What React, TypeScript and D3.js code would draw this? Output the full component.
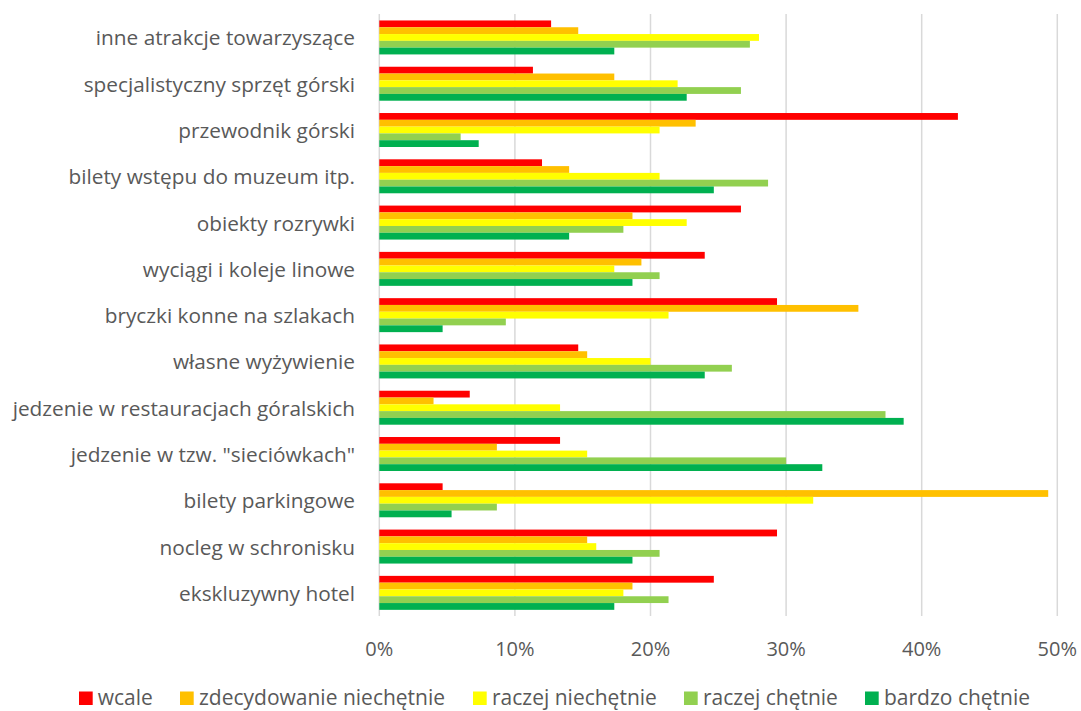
import React from "react";
import * as d3 from "d3";

const categories = [
  "inne atrakcje towarzyszące",
  "specjalistyczny sprzęt górski",
  "przewodnik górski",
  "bilety wstępu do muzeum itp.",
  "obiekty rozrywki",
  "wyciągi i koleje linowe",
  "bryczki konne na szlakach",
  "własne wyżywienie",
  "jedzenie w restauracjach góralskich",
  "jedzenie w tzw. \"sieciówkach\"",
  "bilety parkingowe",
  "nocleg w schronisku",
  "ekskluzywny hotel",
];

const seriesNames = [
  "wcale",
  "zdecydowanie niechętnie",
  "raczej niechętnie",
  "raczej chętnie",
  "bardzo chętnie",
];

const wcale = [12.67, 11.33, 42.67, 12.0, 26.67, 24.0, 29.33, 14.67, 6.67, 13.33, 4.67, 29.33, 24.67];
const zdecydowanieNiechetnie = [14.67, 17.33, 23.33, 14.0, 18.67, 19.33, 35.33, 15.33, 4.0, 8.67, 49.33, 15.33, 18.67];
const raczejNiechetnie = [28.0, 22.0, 20.67, 20.67, 22.67, 17.33, 21.33, 20.0, 13.33, 15.33, 32.0, 16.0, 18.0];
const raczejChetnie = [27.33, 26.67, 6.0, 28.67, 18.0, 20.67, 9.33, 26.0, 37.33, 30.0, 8.67, 20.67, 21.33];
const bardzoChetnie = [17.33, 22.67, 7.33, 24.67, 14.0, 18.67, 4.67, 24.0, 38.67, 32.67, 5.33, 18.67, 17.33];

const seriesValues = [wcale, zdecydowanieNiechetnie, raczejNiechetnie, raczejChetnie, bardzoChetnie];
const colors = ["#FF0000", "#FFC000", "#FFFF00", "#92D050", "#00B050"];
const xTicks = [0, 10, 20, 30, 40, 50];

const W = 1081;
const H = 711;
const FONT = "'Open Sans', 'DejaVu Sans', sans-serif";
const TEXT = "#595959";

export default function App() {
  const x = d3.scaleLinear().domain([0, 50]).range([379.3, 1057.3]);
  const y = d3
    .scaleBand<string>()
    .domain(categories)
    .range([14.3, 616])
    .paddingInner(0.266)
    .paddingOuter(0.133);
  const ySub = d3
    .scaleBand<string>()
    .domain(seriesNames)
    .range([0, y.bandwidth()]);

  const legendItems = [
    { x: 79, tx: 97.7 },
    { x: 180, tx: 199 },
    { x: 473, tx: 492 },
    { x: 684, tx: 703 },
    { x: 865, tx: 884 },
  ];

  return (
    <svg width={W} height={H} style={{ position: "absolute", left: 0, top: 0, background: "#fff" }}>
      <rect x={0} y={0} width={W} height={H} fill="#fff" />
      {xTicks.map((t) => (
        <line key={"g" + t} x1={x(t)} x2={x(t)} y1={14} y2={616} stroke="#D9D9D9" strokeWidth={1.5} />
      ))}
      {categories.map((c, ci) => (
        <g key={c}>
          {seriesNames.map((s, si) => (
            <rect
              key={s}
              x={x(0)}
              y={(y(c) as number) + (ySub(s) as number)}
              width={x(seriesValues[si][ci]) - x(0)}
              height={ySub.bandwidth()}
              fill={colors[si]}
            />
          ))}
          <text
            x={355}
            y={(y(c) as number) + y.bandwidth() / 2}
            textAnchor="end"
            dominantBaseline="central"
            fontFamily={FONT}
            fontSize={20.8}
            fill={TEXT}
          >
            {c}
          </text>
        </g>
      ))}
      {xTicks.map((t) => (
        <text
          key={"t" + t}
          x={x(t)}
          y={648}
          textAnchor="middle"
          dominantBaseline="central"
          fontFamily={FONT}
          fontSize={20}
          fill={TEXT}
        >
          {t + "%"}
        </text>
      ))}
      {seriesNames.map((s, i) => (
        <g key={"l" + s}>
          <rect x={legendItems[i].x} y={691.5} width={13.7} height={13.5} fill={colors[i]} />
          <text
            x={legendItems[i].tx}
            y={705}
            fontFamily={FONT}
            fontSize={21}
            fill={TEXT}
          >
            {s}
          </text>
        </g>
      ))}
    </svg>
  );
}
